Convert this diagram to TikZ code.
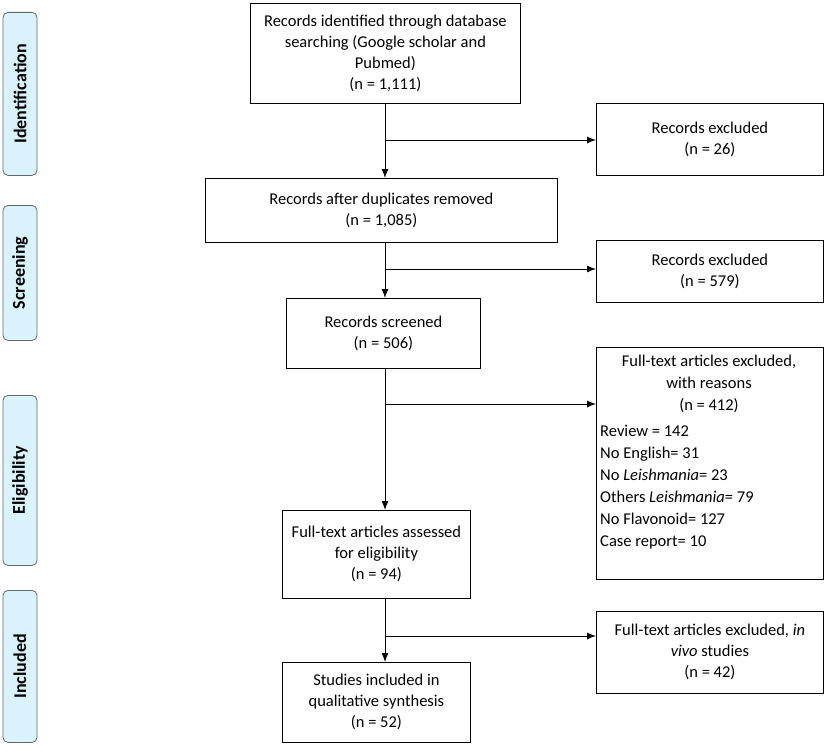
\documentclass[tikz,border=0pt]{standalone}
\usepackage{fontspec}
\usetikzlibrary{arrows.meta}
\setmainfont{Carlito}
\begin{document}
\begin{tikzpicture}[x=1pt,y=-1pt,
 box/.style={draw=black,line width=0.8pt,align=center,font=\fontsize{16.5}{21}\selectfont,inner sep=2pt},
 side/.style={draw=black!60,line width=0.8pt,fill=cyan!15,rounded corners=5pt},
 sidet/.style={rotate=90,font=\bfseries\fontsize{18}{20}\selectfont},
 arr/.style={line width=1pt,-{Latex[length=9pt,width=7pt]}}]
\useasboundingbox (0,0) rectangle (830,752);
% side labels
\foreach \n/\a/\b/\t in {s1/12/175/Identification,s2/205/340/Screening,s3/395/565/Eligibility,s4/590/742/Included}{
 \node[side,minimum width=34pt,minimum height=\b-\a,anchor=north] (\n) at (20,\a) {};
 \node[sidet] at (\n.center) {\t};
}
% main boxes
\node[box,minimum width=270,minimum height=100,anchor=north west] (A) at (250,3) {};
\node at (A.center) [align=center,font=\fontsize{16.5}{21}\selectfont] {Records identified through database\\searching (Google scholar and\\Pubmed)\\(n = 1,111)};
\node[box,minimum width=352,minimum height=64,anchor=north west] (B) at (205,178) {Records after duplicates removed\\(n = 1,085)};
\node[box,minimum width=194,minimum height=70,anchor=north west] (C) at (286,298) {Records screened\\(n = 506)};
\node[box,minimum width=188,minimum height=88,anchor=north west] (D) at (282,510) {Full-text articles assessed\\for eligibility\\(n = 94)};
\node[box,minimum width=188,minimum height=80,anchor=north west] (E) at (282,662) {Studies included in\\qualitative synthesis\\(n = 52)};
% exclusion boxes
\node[box,minimum width=227,minimum height=72,anchor=north west] (X1) at (596,103) {Records excluded\\(n = 26)};
\node[box,minimum width=227,minimum height=62,anchor=north west] (X2) at (596,240) {Records excluded\\(n = 579)};
\node[box,minimum width=227,minimum height=232,anchor=north west] (X3) at (596,347) {};
\node[anchor=north,align=center,font=\fontsize{16.5}{22}\selectfont] (X3t) at (709,352) {Full-text articles excluded,\\with reasons\\(n = 412)};
\node[anchor=north west,align=left,font=\fontsize{16.5}{22}\selectfont,inner sep=0pt] (X3l) at (600,425) {Review = 142\\No English= 31\\No \emph{Leishmania}= 23\\Others \emph{Leishmania}= 79\\No Flavonoid= 127\\Case report= 10};
\node[box,minimum width=227,minimum height=82,anchor=north west] (X4) at (596,611) {Full-text articles excluded, \emph{in}\\\emph{vivo} studies\\(n = 42)};
% connectors
\coordinate (j1) at (385,140);
\coordinate (j2) at (385,269);
\coordinate (j3) at (385,404);
\coordinate (j4) at (385,636);
\draw[arr] (A.south -| j1) -- (B.north -| j1);
\draw[arr] (B.south -| j2) -- (C.north -| j2);
\draw[arr] (C.south -| j3) -- (D.north -| j3);
\draw[arr] (D.south -| j4) -- (E.north -| j4);
\draw[arr] (j1) -- (j1 -| X1.west);
\draw[arr] (j2) -- (j2 -| X2.west);
\draw[arr] (j3) -- (j3 -| X3.west);
\draw[arr] (j4) -- (j4 -| X4.west);
\end{tikzpicture}
\end{document}
